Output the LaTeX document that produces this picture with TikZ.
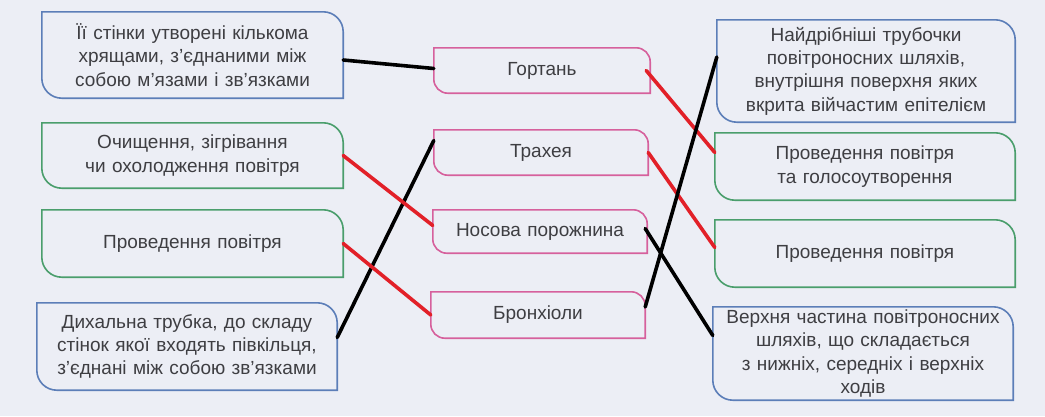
\documentclass[tikz,border=0pt]{standalone}
\usepackage{fontspec}
\setmainfont{Liberation Sans}

\definecolor{paper}{RGB}{236,238,245}
\definecolor{inkgrey}{RGB}{62,62,66}
\definecolor{tabblue}{RGB}{92,126,184}
\definecolor{tabgreen}{RGB}{74,158,108}
\definecolor{tabpink}{RGB}{214,96,156}
\definecolor{markred}{RGB}{226,32,40}

% frame with rounded top-right and bottom-left corners
\newcommand{\tabframe}[3]{%
  \draw[#2, line width=1.6pt] (#1.north west) -- ([xshift=-#3]#1.north east)
    arc[start angle=90, end angle=0, radius=#3] -- (#1.south east)
    -- ([xshift=#3]#1.south west)
    arc[start angle=270, end angle=180, radius=#3] -- cycle;}

\begin{document}
\begin{tikzpicture}[
    x=1pt, y=-1pt,
    every node/.style={text=inkgrey, font=\fontsize{19}{23.3}\selectfont},
    tab/.style={inner sep=0pt, align=center},
    link/.style={line width=3.6pt, line cap=round}
]

    \fill[paper] (0,0) rectangle (1045,416);
    \useasboundingbox (0,0) rectangle (1045,416);

    % --- LEFT COLUMN ---
    \node[tab, text width=301pt, minimum height=86pt] (l1) at (192.5,55)
        {Її стінки утворені кількома\\ хрящами, з’єднаними між\\ собою м’язами і зв’язками};
    \node[tab, text width=301pt, minimum height=65pt] (l2) at (192.5,155.5)
        {Очищення, зігрівання\\ чи охолодження повітря};
    \node[tab, text width=301pt, minimum height=67pt] (l3) at (192.5,243.5)
        {Проведення повітря};
    \node[tab, text width=300pt, minimum height=87pt] (l4) at (187,346.5)
        {Дихальна трубка, до складу\\ стінок якої входять півкільця,\\ з’єднані між собою зв’язками};

    % --- MIDDLE COLUMN ---
    \node[tab, text width=216pt, minimum height=45pt] (m1) at (542,70.5) {Гортань};
    \node[tab, text width=214pt, minimum height=45pt] (m2) at (541,152.5) {Трахея};
    \node[tab, text width=214pt, minimum height=43pt] (m3) at (540,231.5) {Носова порожнина};
    \node[tab, text width=214pt, minimum height=46pt] (m4) at (538,315) {Бронхіоли};

    % --- RIGHT COLUMN ---
    \node[tab, text width=298pt, minimum height=102pt] (r1) at (866,71)
        {Найдрібніші трубочки\\ повітроносних шляхів,\\ внутрішня поверхня яких\\ вкрита війчастим епітелієм};
    \node[tab, text width=300pt, minimum height=67pt] (r2) at (865,166.5)
        {Проведення повітря\\ та голосоутворення};
    \node[tab, text width=300pt, minimum height=67pt] (r3) at (865,253.5)
        {Проведення повітря};
    \node[tab, text width=300pt, minimum height=93pt] (r4) at (863,353.5)
        {Верхня частина повітроносних\\ шляхів, що складається\\ з нижніх, середніх і верхніх\\ ходів};

    % Frames
    \tabframe{l1}{tabblue}{20pt}
    \tabframe{l2}{tabgreen}{20pt}
    \tabframe{l3}{tabgreen}{20pt}
    \tabframe{l4}{tabblue}{20pt}
    \tabframe{m1}{tabpink}{14pt}
    \tabframe{m2}{tabpink}{14pt}
    \tabframe{m3}{tabpink}{14pt}
    \tabframe{m4}{tabpink}{14pt}
    \tabframe{r1}{tabblue}{20pt}
    \tabframe{r2}{tabgreen}{20pt}
    \tabframe{r3}{tabgreen}{20pt}
    \tabframe{r4}{tabblue}{20pt}

    % Answer lines
    \draw[link] ([yshift=-5pt]l1.east) -- ([yshift=2pt]m1.west);
    \draw[link] ([yshift=9pt]l4.east) -- ([yshift=12pt]m2.west);
    \draw[link, markred] (l2.east) -- ([yshift=6pt]m3.west);
    \draw[link, markred] (l3.east) -- (m4.west);
    \draw[link, markred] ([xshift=-4pt]m1.east) -- ([yshift=14pt]r2.west);
    \draw[link, markred] (m2.east) -- ([yshift=6pt]r3.west);
    \draw[link] ([xshift=-2pt, yshift=3pt]m3.east) -- ([yshift=18pt]r4.west);
    \draw[link] ([yshift=8pt]m4.east) -- ([yshift=14pt]r1.west);

\end{tikzpicture}
\end{document}
